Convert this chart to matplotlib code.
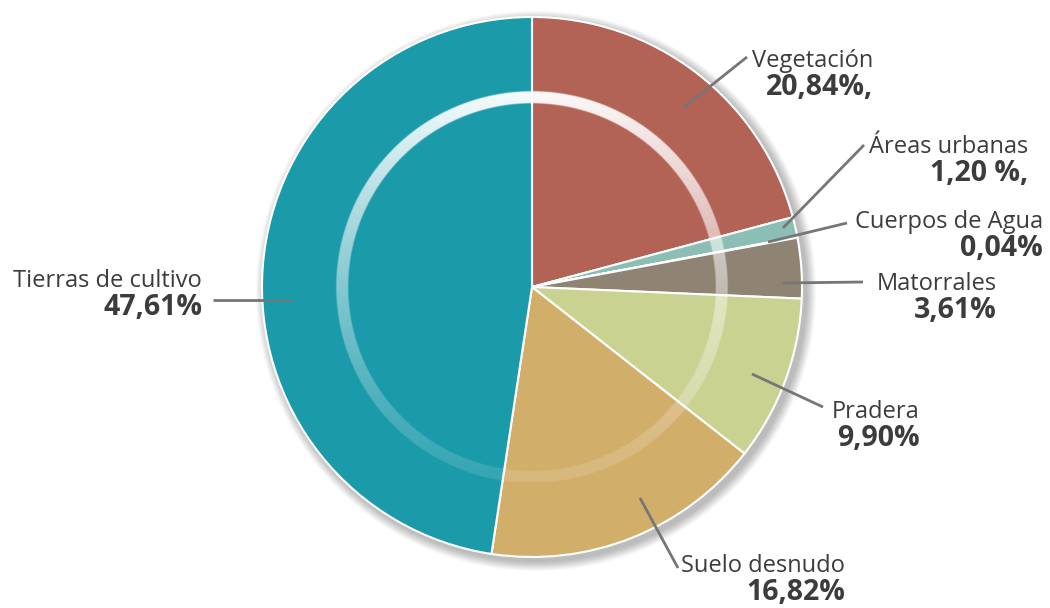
import matplotlib
matplotlib.use("Agg")
import matplotlib.pyplot as plt
from matplotlib.patches import Circle
import numpy as np

plt.rcParams['font.family'] = ['Open Sans', 'DejaVu Sans']

# data
categories = ['Vegetación', 'Áreas urbanas', 'Cuerpos de Agua', 'Matorrales',
              'Pradera', 'Suelo desnudo', 'Tierras de cultivo']
shares = [20.84, 1.20, 0.04, 3.61, 9.90, 16.82, 47.61]
value_labels = ['20,84%,', '1,20 %,', '0,04%', '3,61%', '9,90%', '16,82%', '47,61%']
colors = ['#b36256', '#8bbfb5', '#dcefef', '#8f8373', '#cad292', '#d2ae6b', '#1b9aaa']

W, H = 1050, 608
fig = plt.figure(figsize=(W / 100, H / 100), dpi=100)
ax = fig.add_axes([0, 0, 1, 1])

cx, cy, R = 532, H - 287, 270

# soft shadow behind the pie
for i in range(14):
    ax.add_patch(Circle((cx + 4, cy - 4), R + 1 + i * 0.7, color='black',
                        alpha=0.018, lw=0, zorder=1))

wedges, _ = ax.pie(shares, colors=colors, startangle=90, counterclock=False,
                   center=(cx, cy), radius=R, frame=True,
                   wedgeprops=dict(edgecolor='white', linewidth=1.5))
for w in wedges:
    w.set_zorder(2)

# glossy inner ring, bright at the top and fading to the bottom
r_out, r_in = 196, 184
half = 200
n = 800
gx = np.linspace(-half, half, n)
X, Y = np.meshgrid(gx, gx[::-1])
rr = np.hypot(X, Y)
ring = np.clip(np.minimum(r_out - rr, rr - r_in) + 0.5, 0, 1)
fade = 0.12 + 0.85 * ((Y / r_out + 1) / 2) ** 1.3
img = np.ones((n, n, 4))
img[..., 3] = ring * fade
ax.imshow(img, extent=(cx - half, cx + half, cy - half, cy + half),
          interpolation='bilinear', zorder=3)
ax.set_xlim(0, W)
ax.set_ylim(0, H)
ax.set_aspect('equal')
ax.axis('off')

# label layout (image pixel coords): leader start, leader end, text right edge, first line y
layout = [
    ((683, 108), (747, 57), 873, 59),
    ((783, 228), (864, 145), 1028, 145),
    ((768, 242), (847, 223), 1043, 220),
    ((783, 283), (863, 282), 997, 282),
    ((752, 374), (823, 407), 920, 410),
    ((640, 498), (678, 568), 845, 564),
    ((293, 300), (213, 300), 202, 279),
]

txt_color = '#3c3c3c'
for name, val, (p0, p1, xr, y1) in zip(categories, value_labels, layout):
    ax.plot([p0[0], p1[0]], [H - p0[1], H - p1[1]], color='#767676', lw=2,
            solid_capstyle='butt', zorder=4)
    ax.text(xr, H - (y1 + 8), name, ha='right', va='baseline', fontsize=17,
            color=txt_color, zorder=5)
    ax.text(xr, H - (y1 + 36), val, ha='right', va='baseline', fontsize=20.5,
            fontweight='bold', color=txt_color, zorder=5)

fig.savefig('out.png', dpi=100, facecolor='white')
